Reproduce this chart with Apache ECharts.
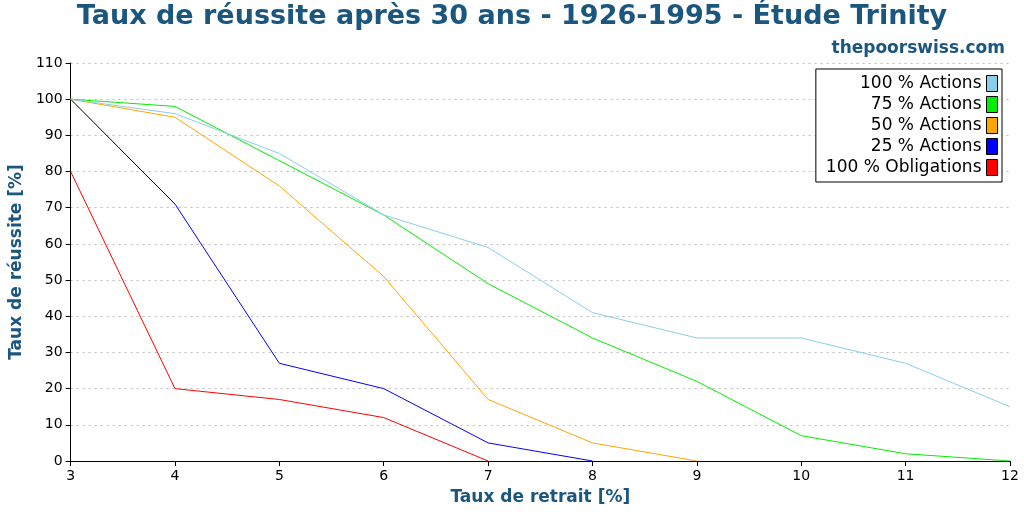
<!DOCTYPE html>
<html><head><meta charset="utf-8">
<script src="https://cdn.jsdelivr.net/npm/echarts@6/dist/echarts.min.js"></script>
<style>html,body{margin:0;padding:0;background:#fff}#c{width:1024px;height:512px}</style>
</head><body><div id="c"></div>
<script>
const xValues = [3,4,5,6,7,8,9,10,11,12];
const stocks100 = [100,96,85,68,59,41,34,34,27,15];
const stocks75 = [100,98,83,68,49,34,22,7,2,0];
const stocks50 = [100,95,76,51,17,5,0];
const stocks25 = [null,71,27,20,5,0];
const firstSeg25 = [100,71];
const bonds100 = [80,20,17,12,0];
const names = ['100 % Actions','75 % Actions','50 % Actions','25 % Actions','100 % Obligations'];
const colors = ['#87ceeb','#00ee00','#ffa500','#0000ff','#ff0000'];
const pair = arr => arr.map((v,i)=>[xValues[i],v]).filter(p=>p[1]!==null);
const datasets = [stocks100,stocks75,stocks50,stocks25,bonds100];
const series = datasets.map((d,i)=>({
  name:names[i], type:'line', data:pair(d), symbol:'none',
  lineStyle:{width:1,color:colors[i]}, itemStyle:{color:colors[i]}, z:5-i
}));
series.push({name:'seg',type:'line',data:pair(firstSeg25),symbol:'none',lineStyle:{width:1,color:'#000'},z:1});
const blue='#1b567f';
const chart = echarts.init(document.getElementById('c'));
chart.setOption({
  animation:false,
  title:[{text:'Taux de réussite après 30 ans - 1926-1995 - Étude Trinity',left:'center',top:-2,
    textStyle:{fontFamily:'DejaVu Sans',fontSize:27,fontWeight:'bold',color:blue}},
    {text:'thepoorswiss.com',right:14,top:35,textStyle:{fontFamily:'DejaVu Sans',fontSize:17,fontWeight:'bold',color:blue}}],
  grid:{left:69,right:14,top:63,bottom:51},
  legend:{data:names,orient:'vertical',right:22,top:69,align:'right',itemWidth:11,itemHeight:16,itemGap:4,
    borderColor:'#000',borderWidth:1,borderRadius:0,padding:[6,4,6,10],backgroundColor:'#fff',
    icon:'rect',itemStyle:{borderColor:'#000',borderWidth:1},
    textStyle:{fontFamily:'DejaVu Sans',fontSize:17,color:'#000'}},
  xAxis:{type:'value',min:3,max:12,interval:1,name:'Taux de retrait [%]',nameLocation:'middle',nameGap:28,
    nameTextStyle:{fontFamily:'DejaVu Sans',fontSize:17,fontWeight:'bold',color:blue},
    axisLine:{lineStyle:{color:'#000'}},axisTick:{lineStyle:{color:'#000'}},
    axisLabel:{fontFamily:'DejaVu Sans',fontSize:14,color:'#000'},splitLine:{show:false}},
  yAxis:{type:'value',min:0,max:110,interval:10,name:'Taux de réussite [%]',nameLocation:'middle',nameGap:44,
    nameTextStyle:{fontFamily:'DejaVu Sans',fontSize:17,fontWeight:'bold',color:blue},
    axisLine:{show:true,lineStyle:{color:'#000'}},axisTick:{show:true,lineStyle:{color:'#000'}},
    axisLabel:{fontFamily:'DejaVu Sans',fontSize:14,color:'#000'},
    splitLine:{lineStyle:{color:'#bbb',type:[2,4]}}},
  series
});
</script></body></html>
